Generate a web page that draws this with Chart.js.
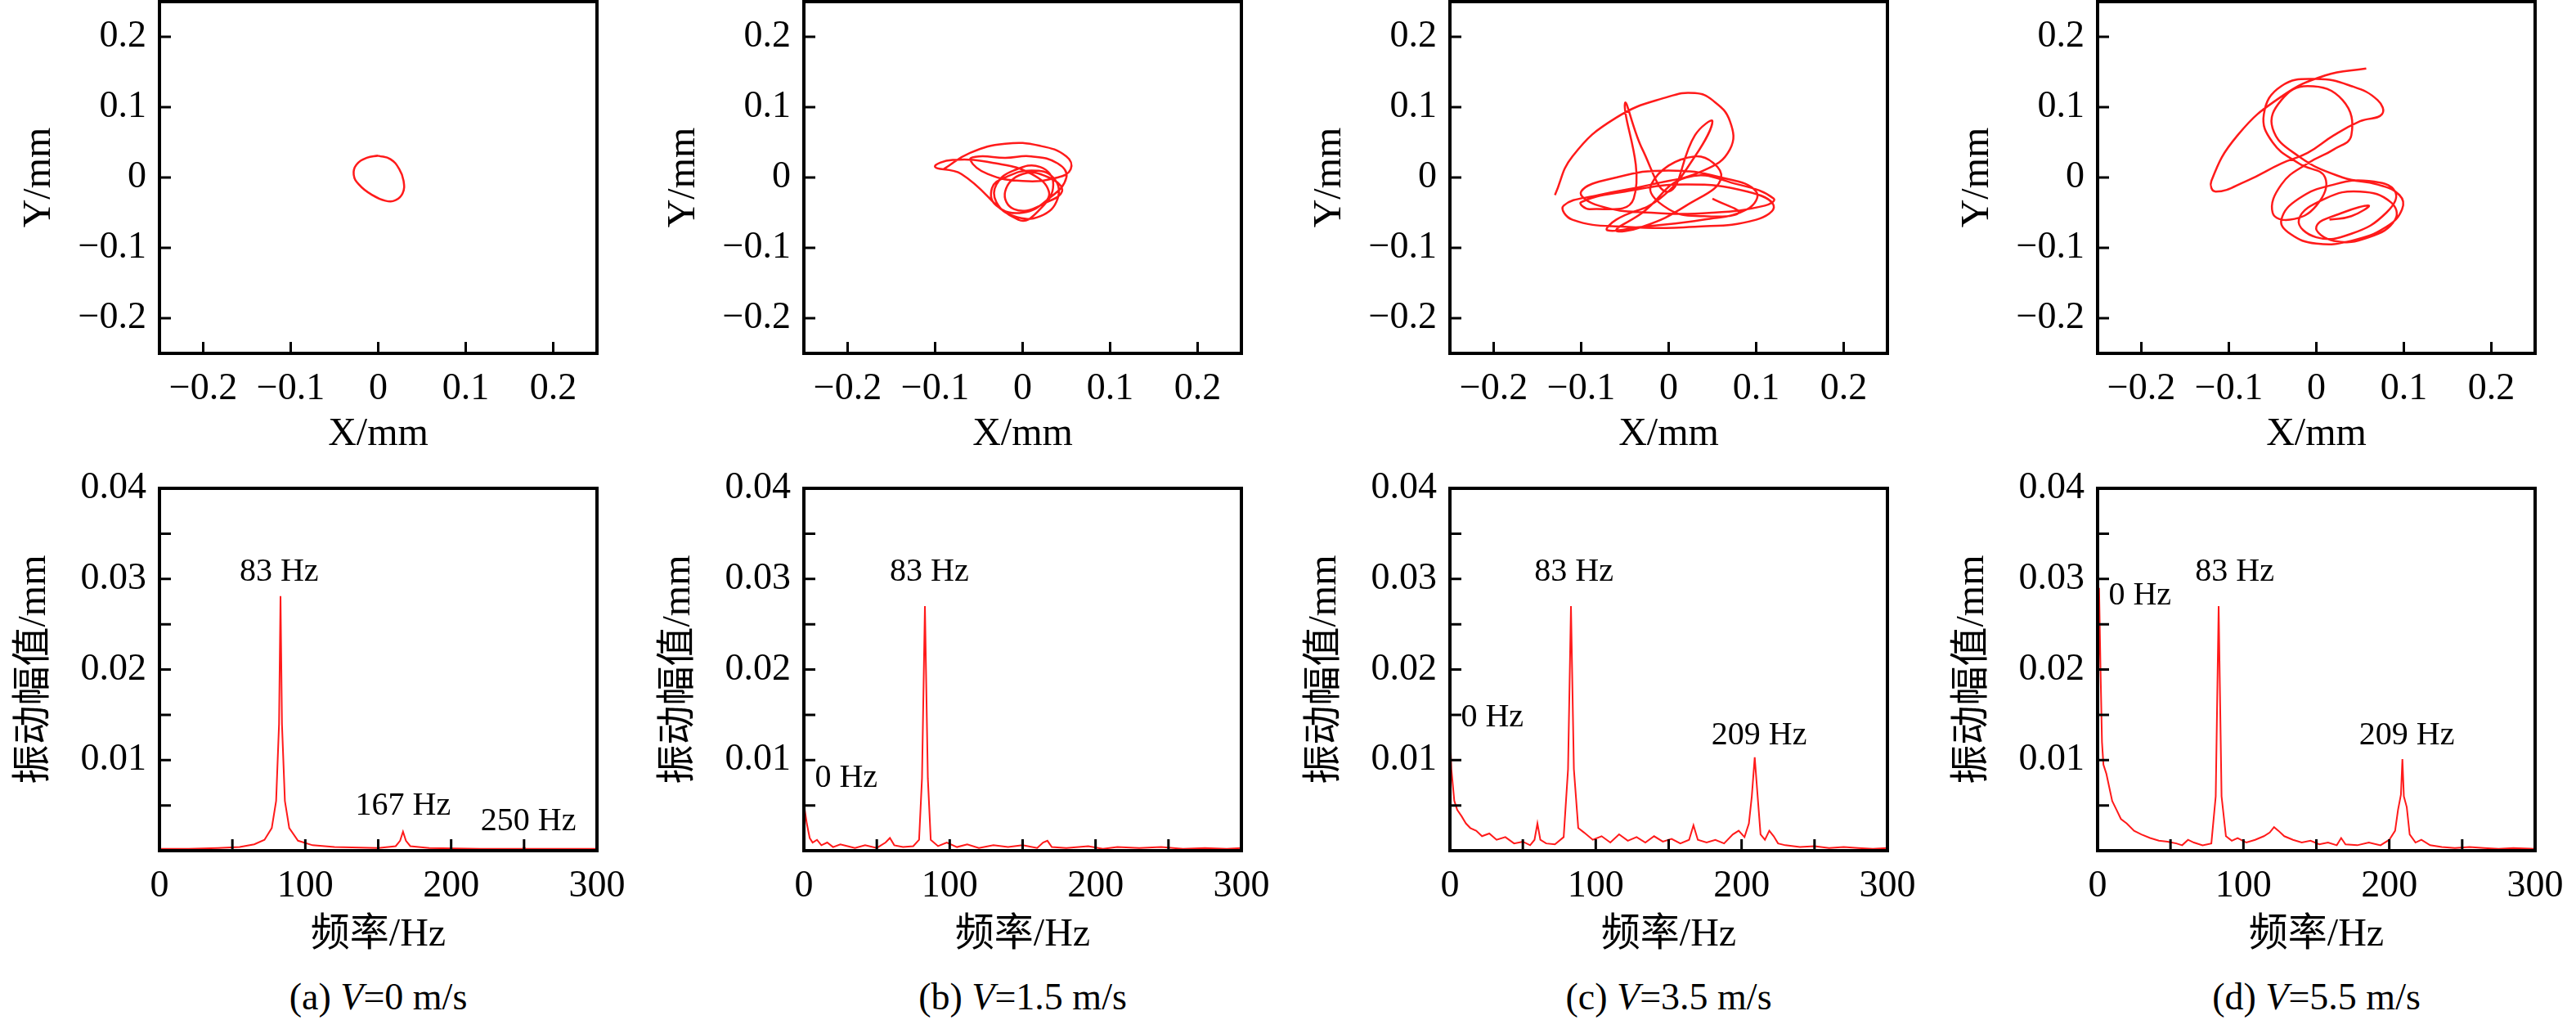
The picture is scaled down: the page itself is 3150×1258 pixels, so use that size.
<!DOCTYPE html>
<html><head><meta charset="utf-8">
<script src="https://cdn.jsdelivr.net/npm/chart.js@4/dist/chart.umd.min.js"></script>
<style>
body{margin:0;background:#fff;width:3150px;height:1258px;position:relative;overflow:hidden;font-family:"Liberation Serif","Noto Sans CJK SC",serif}
.c{position:absolute}
.cap{position:absolute;top:1192px;width:535px;text-align:center;font-size:46px;font-family:"Liberation Serif",serif}
</style></head><body>
<canvas id="o0" class="c"></canvas><canvas id="o1" class="c"></canvas><canvas id="o2" class="c"></canvas><canvas id="o3" class="c"></canvas>
<canvas id="s0" class="c"></canvas><canvas id="s1" class="c"></canvas><canvas id="s2" class="c"></canvas><canvas id="s3" class="c"></canvas>
<div class="cap" id="cap0">(a) <i>V</i>=0 m/s</div>
<div class="cap" id="cap1">(b) <i>V</i>=1.5 m/s</div>
<div class="cap" id="cap2">(c) <i>V</i>=3.5 m/s</div>
<div class="cap" id="cap3">(d) <i>V</i>=5.5 m/s</div>
<script>
"use strict";
var RED = "#ff1a1a";
var FONT = "'Liberation Serif', 'Noto Sans CJK SC', serif";
var boxLefts = [195, 983, 1773, 2565];

var orbitTicks = [-0.2, -0.1, 0, 0.1, 0.2];
var specXTicks = [0, 100, 200, 300];
var specYTicks = [0.01, 0.02, 0.03, 0.04];

// orbit (a) V=0
var orbitAX = [0, 0.014, 0.024, 0.029, 0.028, 0.02, 0.008, -0.008, -0.022, -0.028, -0.025, -0.013, 0];
var orbitAY = [0.031, 0.026, 0.012, -0.005, -0.022, -0.032, -0.033, -0.024, -0.01, 0.004, 0.018, 0.028, 0.031];
// orbit (b) V=1.5
var orbitBX = [-0.09, -0.06, -0.02, 0.02, 0.05, 0.055, 0.04, 0.0, -0.04, -0.06, -0.05, -0.02, 0.01, 0.04, 0.05, 0.03, 0.0, -0.03, -0.035, -0.02, 0.01, 0.035, 0.04, 0.02, -0.01, -0.03, -0.03, -0.01, 0.02, 0.035, 0.02, -0.005, -0.07, -0.1, -0.08, -0.03, 0.01, 0.03, 0.02, -0.01, -0.02, 0.0, 0.03, 0.045, 0.02];
var orbitBY = [0.012, 0.035, 0.048, 0.045, 0.03, 0.012, 0.0, -0.005, 0.005, 0.025, 0.03, 0.028, 0.03, 0.02, 0.0, -0.03, -0.05, -0.04, -0.015, 0.0, 0.01, 0.0, -0.03, -0.055, -0.055, -0.035, -0.01, 0.01, 0.015, -0.01, -0.045, -0.06, 0.005, 0.015, 0.025, 0.02, 0.005, -0.02, -0.04, -0.045, -0.02, 0.005, 0.0, -0.02, -0.04];
// orbit (c) V=3.5
var orbitCX = [-0.13, -0.11, -0.06, 0.0, 0.03, 0.05, 0.07, 0.07, 0.04, -0.02, -0.08, -0.12, -0.11, -0.05, 0.03, 0.1, 0.12, 0.09, 0.02, -0.05, -0.1, -0.09, -0.04, -0.05, -0.03, 0.0, 0.03, 0.05, 0.03, -0.01, -0.06, -0.07, -0.03, 0.04, 0.09, 0.1, 0.06, 0.0, -0.06, -0.1, -0.08, -0.02, 0.05, 0.11, 0.12, 0.08, 0.02, -0.03, -0.06, -0.03, 0.02, 0.06, 0.03, -0.02, 0.0, 0.04, 0.08, 0.05];
var orbitCY = [-0.025, 0.03, 0.085, 0.115, 0.12, 0.11, 0.08, 0.04, 0.01, -0.01, -0.025, -0.04, -0.06, -0.07, -0.07, -0.06, -0.04, -0.02, -0.01, -0.02, -0.035, -0.045, -0.03, 0.105, 0.04, -0.02, 0.06, 0.08, 0.03, -0.03, -0.06, -0.075, -0.07, -0.06, -0.045, -0.02, 0.0, 0.01, 0.0, -0.02, -0.04, -0.05, -0.05, -0.04, -0.03, -0.01, 0.0, -0.05, -0.075, -0.07, -0.04, 0.0, 0.03, -0.01, -0.045, -0.055, -0.05, -0.03];
// orbit (d) V=5.5
var orbitDX = [0.057, 0.01, -0.04, -0.09, -0.12, -0.115, -0.08, -0.04, -0.01, 0.02, 0.05, 0.075, 0.07, 0.04, 0.0, -0.04, -0.06, -0.05, -0.02, 0.01, 0.0, -0.03, -0.05, -0.04, -0.01, 0.02, 0.04, 0.03, -0.01, -0.04, -0.05, -0.02, 0.03, 0.07, 0.095, 0.098, 0.08, 0.04, 0.0, -0.03, -0.04, -0.02, 0.02, 0.06, 0.09, 0.08, 0.04, 0.0, -0.02, 0.01, 0.05, 0.085, 0.09, 0.06, 0.02, 0.0, 0.03, 0.06, 0.04, 0.015];
var orbitDY = [0.155, 0.145, 0.115, 0.06, -0.005, -0.02, -0.005, 0.02, 0.035, 0.06, 0.08, 0.09, 0.11, 0.13, 0.14, 0.13, 0.09, 0.05, 0.02, 0.0, -0.04, -0.06, -0.05, -0.01, 0.02, 0.04, 0.06, 0.11, 0.13, 0.11, 0.07, 0.03, 0.0, -0.01, -0.025, -0.045, -0.07, -0.09, -0.094, -0.08, -0.06, -0.03, -0.01, -0.005, -0.02, -0.05, -0.08, -0.085, -0.06, -0.03, -0.02, -0.035, -0.06, -0.085, -0.09, -0.07, -0.05, -0.04, -0.055, -0.06];

// spectra: frequency (Hz) and amplitude (mm)
var specAF = [0, 20, 40, 55, 65, 72, 77, 80, 82, 83, 84, 86, 89, 95, 105, 120, 150, 162, 165, 167, 169, 172, 185, 220, 249, 250, 251, 280, 300];
var specAA = [0.0002, 0.0002, 0.0003, 0.0004, 0.0007, 0.0012, 0.0025, 0.0055, 0.014, 0.0281, 0.014, 0.0055, 0.0025, 0.0011, 0.0006, 0.0004, 0.0003, 0.0005, 0.0011, 0.0021, 0.0011, 0.0005, 0.0003, 0.0002, 0.0002, 0.0004, 0.0002, 0.0002, 0.0002];
var specBF = [0, 2, 4, 6, 9, 12, 16, 20, 25, 30, 35, 42, 50, 56, 59, 62, 68, 75, 79, 81, 83, 85, 87, 92, 98, 105, 112, 120, 130, 140, 150, 160, 164, 167, 170, 180, 195, 205, 215, 230, 245, 260, 275, 290, 300];
var specBA = [0.0052, 0.003, 0.0014, 0.0009, 0.0012, 0.0006, 0.0009, 0.0004, 0.0007, 0.0005, 0.0003, 0.0006, 0.0003, 0.0009, 0.0014, 0.0006, 0.0004, 0.0005, 0.0012, 0.008, 0.027, 0.008, 0.0012, 0.0005, 0.0009, 0.0004, 0.0007, 0.0003, 0.0006, 0.0004, 0.0006, 0.0003, 0.0009, 0.0011, 0.0004, 0.0003, 0.0005, 0.0002, 0.0004, 0.0003, 0.0004, 0.0002, 0.0003, 0.0002, 0.0003];
var specCF = [0, 1, 3, 5, 8, 11, 14, 18, 22, 27, 32, 38, 44, 50, 55, 58, 60, 62, 66, 72, 78, 81, 83, 85, 88, 92, 98, 104, 110, 116, 122, 128, 134, 140, 146, 152, 158, 164, 167, 170, 176, 182, 188, 194, 198, 202, 205, 207, 209, 211, 213, 216, 219, 222, 225, 230, 240, 250, 260, 270, 280, 290, 300];
var specCA = [0.0134, 0.009, 0.0055, 0.0045, 0.0038, 0.003, 0.0025, 0.0022, 0.0016, 0.0019, 0.0012, 0.0015, 0.0008, 0.001, 0.0006, 0.0012, 0.003, 0.0012, 0.0008, 0.0007, 0.0015, 0.009, 0.027, 0.009, 0.0025, 0.002, 0.0012, 0.0016, 0.0009, 0.0018, 0.0011, 0.0015, 0.0009, 0.0016, 0.001, 0.0013, 0.0008, 0.0012, 0.0028, 0.0012, 0.0009, 0.0012, 0.0008, 0.0018, 0.0022, 0.0015, 0.003, 0.006, 0.0103, 0.006, 0.0018, 0.0012, 0.0022, 0.0016, 0.0008, 0.0006, 0.0004, 0.0005, 0.0003, 0.0004, 0.0003, 0.0002, 0.0003];
var specDF = [0, 1, 2, 3, 4, 6, 8, 10, 13, 16, 20, 25, 30, 36, 42, 48, 54, 58, 62, 66, 72, 78, 81, 83, 85, 88, 92, 96, 102, 108, 114, 118, 121, 124, 128, 134, 140, 146, 152, 158, 164, 167, 170, 178, 186, 194, 200, 204, 206, 208, 209, 210, 212, 214, 218, 222, 228, 236, 245, 255, 265, 275, 285, 300];
var specDA = [0.006, 0.029, 0.02, 0.012, 0.0095, 0.0085, 0.007, 0.0055, 0.0045, 0.0035, 0.003, 0.0022, 0.0018, 0.0014, 0.0011, 0.001, 0.0008, 0.0006, 0.0012, 0.0009, 0.0006, 0.0008, 0.006, 0.027, 0.006, 0.0016, 0.0011, 0.0014, 0.0009, 0.0012, 0.0016, 0.002, 0.0026, 0.0022, 0.0016, 0.0012, 0.0009, 0.0011, 0.0007, 0.0009, 0.0006, 0.0014, 0.0007, 0.0006, 0.0009, 0.0006, 0.0012, 0.0022, 0.0045, 0.0062, 0.0101, 0.006, 0.0048, 0.0018, 0.0009, 0.0012, 0.0006, 0.0004, 0.0003, 0.0004, 0.0003, 0.0002, 0.0003, 0.0002];

// peak labels: text, x (Hz), y baseline (mm)
var labelsA = [["83 Hz", 82, 0.0298], ["167 Hz", 167, 0.0040], ["250 Hz", 253, 0.0023]];
var labelsB = [["0 Hz", 29, 0.0070], ["83 Hz", 86, 0.0298]];
var labelsC = [["0 Hz", 29, 0.0137], ["83 Hz", 85, 0.0298], ["209 Hz", 212, 0.0117]];
var labelsD = [["0 Hz", 29, 0.0272], ["83 Hz", 94, 0.0298], ["209 Hz", 212, 0.0117]];

function pts(xs, ys) {
  return xs.map(function (x, i) { return { x: x, y: ys[i] }; });
}

var framePlugin = {
  id: "frame",
  afterDraw: function (chart) {
    var o = chart.options.plugins.frame;
    var a = chart.chartArea, ctx = chart.ctx;
    var xs = chart.scales.x, ys = chart.scales.y;
    ctx.save();
    ctx.strokeStyle = "#000";
    ctx.lineWidth = 4;
    ctx.strokeRect(a.left, a.top, a.right - a.left, a.bottom - a.top);
    ctx.lineWidth = 3;
    ctx.beginPath();
    o.xMarks.forEach(function (v) {
      var p = xs.getPixelForValue(v);
      ctx.moveTo(p, a.bottom); ctx.lineTo(p, a.bottom - 14);
    });
    o.yMarks.forEach(function (v) {
      var p = ys.getPixelForValue(v);
      ctx.moveTo(a.left, p); ctx.lineTo(a.left + 14, p);
    });
    ctx.stroke();
    ctx.fillStyle = "#000";
    ctx.font = "40px " + FONT;
    ctx.textAlign = "center";
    ctx.textBaseline = "alphabetic";
    (o.labels || []).forEach(function (l) {
      ctx.fillText(l[0], xs.getPixelForValue(l[1]), ys.getPixelForValue(l[2]));
    });
    ctx.restore();
  }
};

function axis(min, max, ticks, title, fit, isY) {
  return {
    type: "linear", min: min, max: max,
    afterBuildTicks: function (s) { s.ticks = ticks.map(function (v) { return { value: v }; }); },
    afterFit: function (s) {
      if (isY) s.width = fit; else s.height = fit;
      s.paddingTop = 0; s.paddingBottom = 0; s.paddingLeft = 0; s.paddingRight = 0;
    },
    grid: { display: false, drawTicks: false },
    border: { display: false },
    ticks: {
      color: "#000", font: { family: FONT, size: 46 }, padding: 16,
      maxRotation: 0, autoSkip: false,
      callback: function (v) { return v < 0 ? "\u2212" + String(-v) : String(v); }
    },
    title: { display: true, text: title, color: "#000", font: { family: FONT, size: 48 }, padding: 0 }
  };
}

function place(id, left, top, w, h) {
  var c = document.getElementById(id);
  c.style.left = left + "px"; c.style.top = top + "px";
  c.style.width = w + "px"; c.style.height = h + "px";
  c.width = w; c.height = h;
  return c;
}

var orbits = [[orbitAX, orbitAY], [orbitBX, orbitBY], [orbitCX, orbitCY], [orbitDX, orbitDY]];
var spectra = [[specAF, specAA, labelsA], [specBF, specBA, labelsB], [specCF, specCA, labelsC], [specDF, specDA, labelsD]];

boxLefts.forEach(function (bl, i) {
  document.getElementById("cap" + i).style.left = bl + "px";

  // top: chart area 430 tall starting at y=2
  var oc = place("o" + i, bl - 195, 0, 775, 2 + 430 + 128);
  new Chart(oc.getContext("2d"), {
    type: "scatter",
    data: { datasets: [{ data: pts(orbits[i][0], orbits[i][1]), showLine: true, borderColor: RED, borderWidth: 2.5, pointRadius: 0, tension: 0.45 }] },
    options: {
      responsive: false, animation: false, devicePixelRatio: 1,
      layout: { padding: { top: 2, right: 45, left: 20, bottom: 0 } },
      plugins: { legend: { display: false }, tooltip: { enabled: false },
        frame: { xMarks: orbitTicks, yMarks: orbitTicks } },
      scales: {
        x: axis(-0.25, 0.25, orbitTicks, "X/mm", 128, false),
        y: axis(-0.25, 0.25, orbitTicks, "Y/mm", 175, true)
      }
    },
    plugins: [framePlugin]
  });

  // bottom: chart area 443 tall starting at y=597
  var sc = place("s" + i, bl - 195, 560, 775, 37 + 443 + 132);
  new Chart(sc.getContext("2d"), {
    type: "scatter",
    data: { datasets: [{ data: pts(spectra[i][0], spectra[i][1]), showLine: true, borderColor: RED, borderWidth: 2, pointRadius: 0, tension: 0 }] },
    options: {
      responsive: false, animation: false, devicePixelRatio: 1,
      layout: { padding: { top: 37, right: 45, left: 14, bottom: 0 } },
      plugins: { legend: { display: false }, tooltip: { enabled: false },
        frame: { xMarks: [50, 100, 150, 200, 250], yMarks: [0.005, 0.01, 0.015, 0.02, 0.025, 0.03, 0.035], labels: spectra[i][2] } },
      scales: {
        x: axis(0, 300, specXTicks, "频率/Hz", 132, false),
        y: axis(0, 0.04, specYTicks, "振动幅值/mm", 181, true)
      }
    },
    plugins: [framePlugin]
  });
});
</script>
</body></html>
